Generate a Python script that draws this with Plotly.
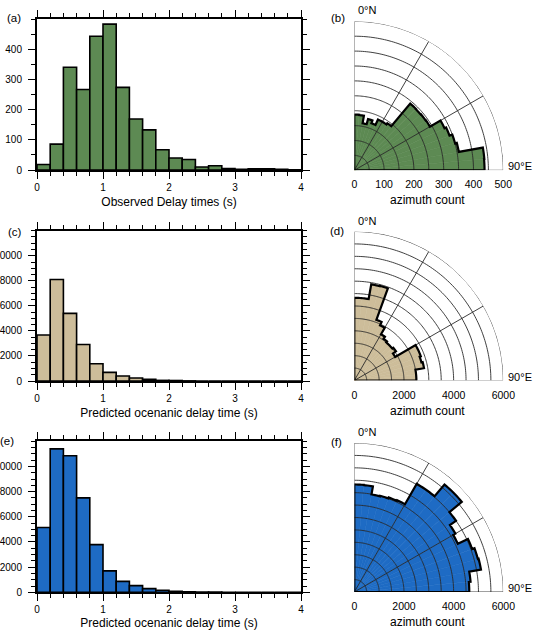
import numpy as np
import plotly.graph_objects as go

# ---------------- data ----------------
bin_left = [0.0, 0.2, 0.4, 0.6, 0.8, 1.0, 1.2, 1.4, 1.6, 1.8,
            2.0, 2.2, 2.4, 2.6, 2.8, 3.0, 3.2, 3.4, 3.6, 3.8]
bin_width = 0.2
obs_counts = [18, 86, 341, 267, 444, 484, 274, 169, 133, 67,
              40, 35, 10, 14, 5, 2, 4, 4, 2, 1]
pred_c_counts = [3670, 8100, 5400, 2920, 1380, 690, 400, 240, 130, 50,
                 40, 10, 0, 0, 0, 0, 0, 0, 0, 0]
pred_e_counts = [5150, 11400, 10850, 7500, 3790, 1700, 870, 530, 290, 160,
                 80, 30, 15, 10, 5, 0, 0, 0, 0, 0]

az_left = [0, 5, 10, 15, 20, 25, 30, 35, 40, 45, 50, 55, 60, 65, 70, 75, 80, 85]
az_width = 5
az_b = [187, 186, 160, 178, 168, 188, 188, 193, 292, 291, 292, 293, 334, 340, 350, 356, 438, 437]
az_d = [3330, 3330, 3930, 3950, 2600, 2450, 2150, 2050, 2000, 2000, 2050, 1900, 2850, 2850, 2800, 2850, 2500, 2500]
az_f = [4330, 4320, 3990, 4010, 4050, 4080, 5030, 5030, 5650, 5650, 5000, 4700, 4600, 5050, 5150, 5180, 4700, 4630]

x_ticks = [0, 1, 2, 3, 4]
x_ticktext = ["0", "1", "2", "3", "4"]
hist_titles = ["Observed Delay times (s)", "Predicted ocenanic delay time (s)", "Predicted ocenanic delay time (s)"]
hist_yticks = [[0, 100, 200, 300, 400], [0, 2000, 4000, 6000, 8000, 10000], [0, 2000, 4000, 6000, 8000, 10000]]
hist_yticktext = [["0", "100", "200", "300", "400"],
                  ["0", "2000", "4000", "6000", "8000", "10000"],
                  ["0", "2000", "4000", "6000", "8000", "10000"]]
hist_ymax = [500, 12000, 12000]
hist_yminor = [50, 500, 500]
rose_rmax = [500, 6000, 6000]
rose_ring = [50, 500, 500]
rose_ticks = [[0, 100, 200, 300, 400, 500], [0, 2000, 4000, 6000], [0, 2000, 4000, 6000]]
rose_ticktext = [["0", "100", "200", "300", "400", "500"], ["0", "2000", "4000", "6000"], ["0", "2000", "4000", "6000"]]
panel_labels = [["(a)", "(b)"], ["(c)", "(d)"], ["(e)", "(f)"]]

colors = ["#5D8A53", "#CDBD9A", "#1E6BC4"]

# ---------------- layout helpers (pixel geometry) ----------------
W, H = 537, 630
FONT = "Liberation Sans, Arial, Helvetica, sans-serif"


def px_x(x):
    return x / W


def px_y(y):
    return 1 - y / H


hist_box = [(37, 301, 19.3, 170), (37, 301, 230.7, 381), (37, 301, 441.3, 592.3)]
rose_center = [(354.3, 170.3), (354.3, 380.5), (354.3, 592)]
R = 149

fig = go.Figure()
layout = dict(width=W, height=H, autosize=False, margin=dict(l=0, r=0, t=0, b=0, autoexpand=False),
              paper_bgcolor="white", plot_bgcolor="white", showlegend=False,
              font=dict(family=FONT, size=10, color="black"))
annotations = []

hist_data = [obs_counts, pred_c_counts, pred_e_counts]
rose_data = [az_b, az_d, az_f]

for i in range(3):
    # ---------- histogram ----------
    xa = "xaxis" if i == 0 else f"xaxis{i+1}"
    ya = "yaxis" if i == 0 else f"yaxis{i+1}"
    xr = "x" if i == 0 else f"x{i+1}"
    yr = "y" if i == 0 else f"y{i+1}"
    centers = [b + bin_width / 2 for b in bin_left]
    fig.add_trace(go.Bar(x=centers, y=hist_data[i], width=bin_width,
                         marker=dict(color=colors[i], line=dict(color="black", width=1.6)),
                         xaxis=xr, yaxis=yr))
    x0, x1, y0, y1 = hist_box[i]
    layout[xa] = dict(domain=[px_x(x0), px_x(x1)], range=[0, 4], anchor=yr, automargin=False,
                      tickmode="array", tickvals=x_ticks, ticktext=x_ticktext,
                      ticks="outside", ticklen=7, tickwidth=1.3, tickcolor="black",
                      minor=dict(tickmode="linear", tick0=0, dtick=0.2, ticks="outside", ticklen=4,
                                 tickwidth=1.1, tickcolor="black"),
                      showline=True, linewidth=2, linecolor="black", mirror="ticks",
                      showgrid=False, zeroline=False,
                      tickfont=dict(size=10),
                      title=dict(text=hist_titles[i], font=dict(size=12), standoff=6))
    layout[ya] = dict(domain=[px_y(y1), px_y(y0)], range=[0, hist_ymax[i]], anchor=xr, automargin=False,
                      tickmode="array", tickvals=hist_yticks[i], ticktext=hist_yticktext[i],
                      ticks="outside", ticklen=7, tickwidth=1.3, tickcolor="black",
                      minor=dict(tickmode="linear", tick0=0, dtick=hist_yminor[i], ticks="outside",
                                 ticklen=4, tickwidth=1.1, tickcolor="black"),
                      showline=True, linewidth=2, linecolor="black", mirror="ticks",
                      showgrid=False, zeroline=False, ticklabelstandoff=4,
                      tickfont=dict(size=10))

    # ---------- rose ----------
    pname = "polar" if i == 0 else f"polar{i+1}"
    sub = "polar" if i == 0 else f"polar{i+1}"
    cx, cy = rose_center[i]
    rmax = rose_rmax[i]
    vals = rose_data[i]
    thetas = [a + az_width / 2 for a in az_left]
    fig.add_trace(go.Barpolar(r=vals, theta=thetas, width=[az_width] * len(vals),
                              marker=dict(color=colors[i], line=dict(color=colors[i], width=0.6)),
                              subplot=sub))
    # grid rings and spokes drawn above the bars
    ring_r, ring_t = [], []
    tt = np.linspace(0, 90, 91)
    for rv in np.arange(rose_ring[i], rmax + 1e-9, rose_ring[i]):
        ring_r += [rv] * len(tt) + [None]
        ring_t += list(tt) + [None]
    for a in [0, 30, 60, 90]:
        ring_r += [0, rmax, None]
        ring_t += [a, a, None]
    fig.add_trace(go.Scatterpolar(r=ring_r, theta=ring_t, mode="lines",
                                  line=dict(color="#2a2a2a", width=0.9),
                                  cliponaxis=False, hoverinfo="skip", subplot=sub))
    # rose outline
    out_r, out_t = [0], [0]
    for a, v in zip(az_left, vals):
        ts = np.linspace(a, a + az_width, 6)
        out_r += [v] * len(ts)
        out_t += list(ts)
    out_r += [0]
    out_t += [90]
    fig.add_trace(go.Scatterpolar(r=out_r, theta=out_t, mode="lines",
                                  line=dict(color="black", width=2.2),
                                  cliponaxis=False, hoverinfo="skip", subplot=sub))
    layout[pname] = dict(
        domain=dict(x=[px_x(cx), px_x(cx + R)], y=[px_y(cy), px_y(cy - R)]),
        sector=[0, 90], bgcolor="white",
        angularaxis=dict(rotation=90, direction="clockwise", showgrid=False, showline=False,
                         showticklabels=False, ticks=""),
        radialaxis=dict(range=[0, rmax], tickmode="array", tickvals=rose_ticks[i],
                        ticktext=rose_ticktext[i],
                        showgrid=False, showline=False, ticks="outside", ticklen=5,
                        tickcolor="rgba(0,0,0,0)", angle=0,
                        tickfont=dict(size=10.5)),
    )
    # text labels
    annotations.append(dict(text="0°N", x=px_x(cx + 2), y=px_y(cy - R - 11), xref="paper", yref="paper",
                            xanchor="left", yanchor="middle", showarrow=False, font=dict(size=11)))
    annotations.append(dict(text="90°E", x=px_x(cx + R + 3), y=px_y(cy - 4), xref="paper", yref="paper",
                            xanchor="left", yanchor="middle", showarrow=False, font=dict(size=11)))
    annotations.append(dict(text="azimuth count", x=px_x(cx + 73), y=px_y(cy + 30), xref="paper", yref="paper",
                            xanchor="center", yanchor="middle", showarrow=False, font=dict(size=12)))

label_pos = [[(14, 17.5), (337.5, 17.5)], [(15, 232), (336.5, 231)], [(7, 441), (336, 442)]]
for i in range(3):
    for j in range(2):
        lx, ly = label_pos[i][j]
        annotations.append(dict(text=panel_labels[i][j], x=px_x(lx), y=px_y(ly), xref="paper", yref="paper",
                                xanchor="center", yanchor="middle", showarrow=False, font=dict(size=11.5)))

layout["annotations"] = annotations
fig.update_layout(**layout)
fig.write_html("out.html")
